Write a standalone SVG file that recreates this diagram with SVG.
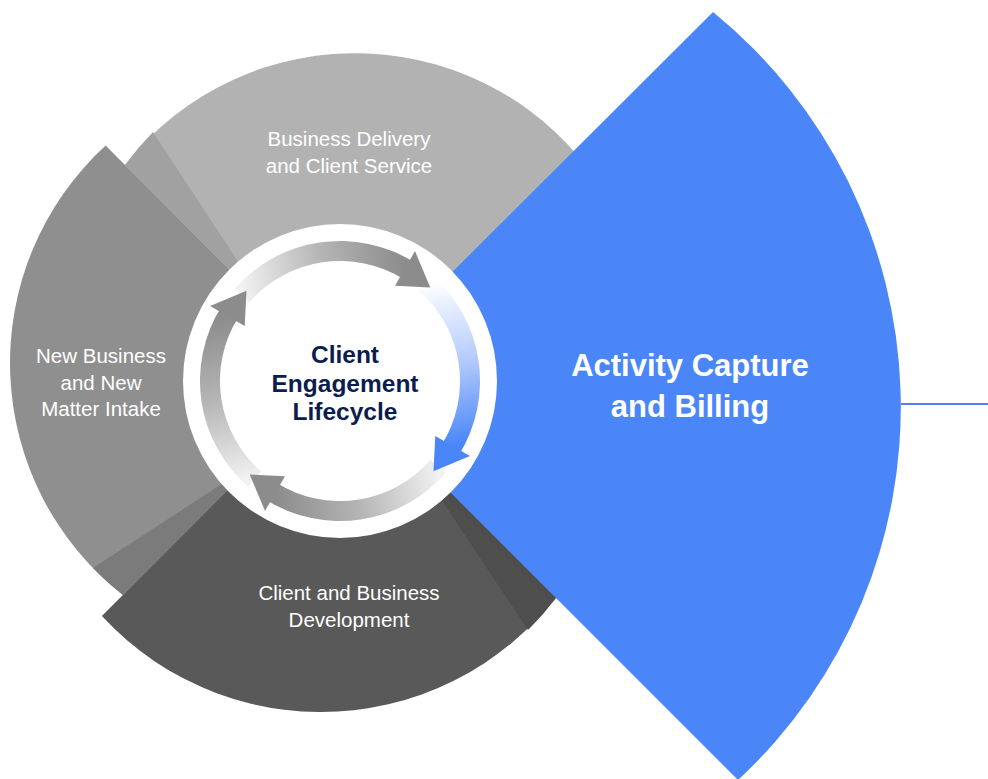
<svg xmlns="http://www.w3.org/2000/svg" width="988" height="779" viewBox="0 0 988 779">
<style>
.lbl{font-family:"Liberation Sans",Arial,sans-serif;font-size:20.5px;fill:#ffffff;text-anchor:middle}
.big{font-family:"Liberation Sans",Arial,sans-serif;font-size:31px;font-weight:bold;fill:#ffffff;text-anchor:middle}
.ctr{font-family:"Liberation Sans",Arial,sans-serif;font-size:24.5px;font-weight:bold;fill:#0b1c4f;text-anchor:middle}
</style>
<defs>
<linearGradient id="gGray" gradientUnits="userSpaceOnUse" x1="242" y1="296" x2="405" y2="268">
<stop offset="0" stop-color="#f2f2f2"/>
<stop offset="0.5" stop-color="#b6b6b6"/>
<stop offset="1" stop-color="#8c8c8c"/>
</linearGradient>
<linearGradient id="gBlue" gradientUnits="userSpaceOnUse" x1="242" y1="296" x2="405" y2="268">
<stop offset="0" stop-color="#ffffff"/>
<stop offset="0.5" stop-color="#b3cbfb"/>
<stop offset="1" stop-color="#4a86f7"/>
</linearGradient>
<path id="band" d="M234.3,289.1 A140 140 0 0 1 414.2,262.3 L403.6,279.2 A120 120 0 0 0 249.4,302.3 Z"/>
<path id="head" d="M415,251.1 L430.3,287.5 L395,285.7 Z"/>
</defs>

<g id="seg-delivery">
<path d="M340,380 L125,165 A293 293 0 0 1 600,185 Z" fill="#b2b2b2"/>
<path d="M125,165 A293 293 0 0 1 153,132 L269.5,309.5 Z" fill="#a1a1a1"/>
<text class="lbl" x="349" y="146">Business Delivery</text>
<text class="lbl" x="349" y="173">and Client Service</text>
</g>

<g id="seg-intake">
<path d="M340,380 L105.6,145.6 A295 295 0 0 0 122.9,595.1 Z" fill="#8f8f8f"/>
<path d="M93,568 A295 295 0 0 0 122.9,595.1 L257,461 Z" fill="#7b7b7b"/>
<text class="lbl" x="101" y="363">New Business</text>
<text class="lbl" x="101" y="390">and New</text>
<text class="lbl" x="101" y="416">Matter Intake</text>
</g>

<g id="seg-development">
<path d="M340,378 L101.9,616.1 A298 298 0 0 0 579,563 Z" fill="#595959"/>
<path d="M528,630 A298 298 0 0 0 579,563 L409.5,451.5 Z" fill="#4e4e4e"/>
<text class="lbl" x="349" y="600">Client and Business</text>
<text class="lbl" x="349" y="627">Development</text>
</g>

<g id="seg-billing">
<path d="M341,383 L713,12 A509 509 0 0 1 738,780 Z" fill="#4a86f7"/>
<text class="big" x="690" y="376">Activity Capture</text>
<text class="big" x="690" y="417">and Billing</text>
</g>

<g id="hub">
<circle cx="340" cy="381" r="157" fill="#ffffff"/>
<g id="cycle-arrows">
<use href="#band" fill="url(#gGray)"/>
<use href="#band" fill="url(#gBlue)" transform="rotate(90 340 381)"/>
<use href="#band" fill="url(#gGray)" transform="rotate(180 340 381)"/>
<use href="#band" fill="url(#gGray)" transform="rotate(270 340 381)"/>
<use href="#head" fill="#8c8c8c"/>
<use href="#head" fill="#4a86f7" transform="rotate(90 340 381)"/>
<use href="#head" fill="#8c8c8c" transform="rotate(180 340 381)"/>
<use href="#head" fill="#8c8c8c" transform="rotate(270 340 381)"/>
</g>
<text class="ctr" x="345" y="363">Client</text>
<text class="ctr" x="345" y="392">Engagement</text>
<text class="ctr" x="345" y="420">Lifecycle</text>
</g>

<g id="connectors">
<line x1="901" y1="404" x2="988" y2="404" stroke="#1f50f5" stroke-width="1.5"/>
</g>
</svg>
